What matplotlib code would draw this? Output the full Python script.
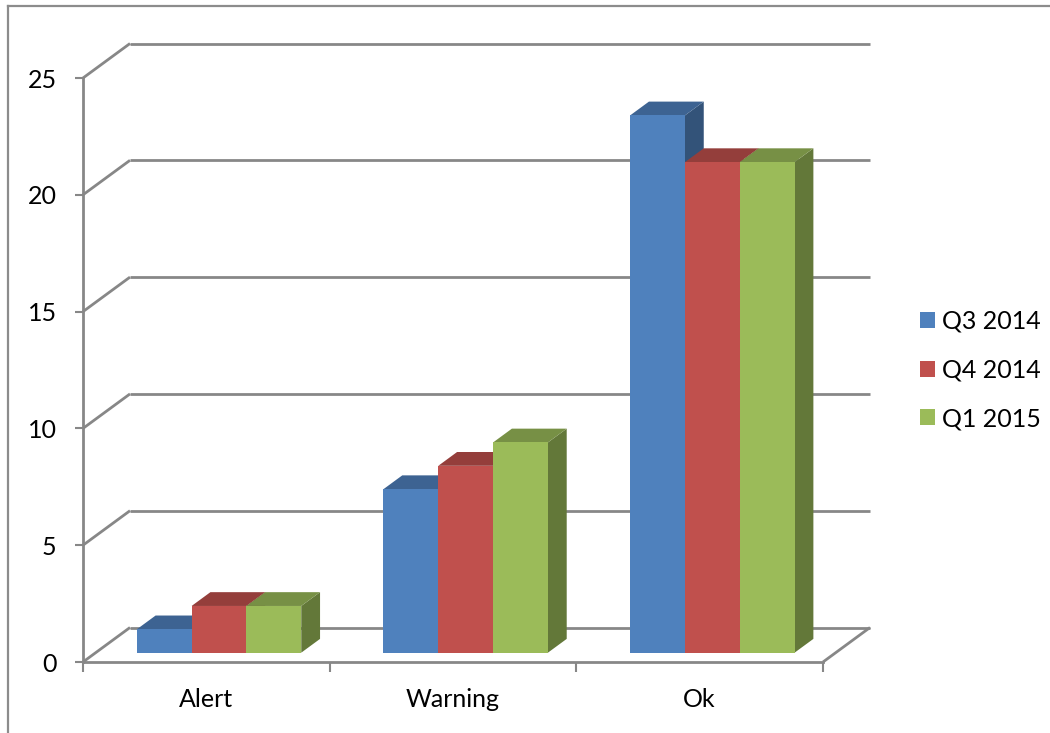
import matplotlib
matplotlib.use("Agg")
import matplotlib.pyplot as plt
import numpy as np
from matplotlib.patches import Polygon, Patch
from matplotlib.lines import Line2D
from matplotlib.transforms import IdentityTransform

# Chart data
categories = ["Alert", "Warning", "Ok"]
series_names = ["Q3 2014", "Q4 2014", "Q1 2015"]
q3_2014 = [1, 7, 23]
q4_2014 = [2, 8, 21]
q1_2015 = [2, 9, 21]
y_ticks = [0, 5, 10, 15, 20, 25]

series_values = [q3_2014, q4_2014, q1_2015]
front_colors = ["#4F81BD", "#C0504D", "#9BBB59"]
GRID = "#878787"
FS = 18

plt.rcParams["font.family"] = ["Lato", "DejaVu Sans"]

W, H = 1050, 733
fig = plt.figure(figsize=(W / 100, H / 100), dpi=100)
fig.patch.set_facecolor("white")

# Front plane of the 3-D box
ax = fig.add_axes([83 / W, 71 / H, 740 / W, 584 / H])
ax.set_xlim(0, len(categories))
ax.set_ylim(0, y_ticks[-1])
ax.patch.set_visible(False)
for s in ["top", "right"]:
    ax.spines[s].set_visible(False)
for s in ["left", "bottom"]:
    ax.spines[s].set_color(GRID)
    ax.spines[s].set_linewidth(2)
    ax.spines[s].set_zorder(1)

ax.set_yticks(y_ticks)
ax.tick_params(axis="y", direction="out", length=6, width=1.5, color=GRID,
               pad=13, labelsize=FS)
ax.set_xticks(np.arange(len(categories)) + 0.5)
ax.set_xticklabels(categories)
ax.set_xticks(np.arange(len(categories) + 1), minor=True)
ax.tick_params(axis="x", which="major", length=0, pad=19, labelsize=FS)
ax.tick_params(axis="x", which="minor", direction="out", length=7, width=1.5,
               color=GRID)

# Oblique depth vector (pixels) from the front plane to the back wall
DEPTH = np.array([47.0, 34.5])


def proj(x, y, f):
    """Data point (x, y) pushed back by depth fraction f, in display pixels."""
    return ax.transData.transform((x, y)) + f * DEPTH


def line3d(p, q, **kw):
    ax.add_line(Line2D([p[0], q[0]], [p[1], q[1]], transform=IdentityTransform(),
                       clip_on=False, color=GRID, lw=2, solid_capstyle="butt", **kw))


# Back wall gridlines and side-wall diagonals
n_cat = len(categories)
for v in y_ticks:
    line3d(proj(0, v, 1), proj(n_cat, v, 1), zorder=0.5)
    line3d(proj(0, v, 0), proj(0, v, 1), zorder=0.5)
# Floor edge on the right
line3d(proj(n_cat, 0, 0), proj(n_cat, 0, 1), zorder=0.5)


def shade(hex_color, k):
    rgb = np.array(matplotlib.colors.to_rgb(hex_color))
    return tuple(rgb * k)


# 3-D columns
bar_w = 1 / 4.5
f0, f1 = 0.27, 0.67
z = 2
for c in range(n_cat):
    for i, vals in enumerate(series_values):
        h = vals[c]
        x0 = c + (1 - len(series_values) * bar_w) / 2 + i * bar_w
        x1 = x0 + bar_w
        col = front_colors[i]
        side = [proj(x1, 0, f0), proj(x1, 0, f1), proj(x1, h, f1), proj(x1, h, f0)]
        top = [proj(x0, h, f0), proj(x1, h, f0), proj(x1, h, f1), proj(x0, h, f1)]
        front = [proj(x0, 0, f0), proj(x1, 0, f0), proj(x1, h, f0), proj(x0, h, f0)]
        for pts, k in [(side, 0.64), (top, 0.77), (front, 1.0)]:
            ax.add_patch(Polygon(pts, closed=True, transform=IdentityTransform(),
                                 facecolor=shade(col, k), edgecolor="none",
                                 clip_on=False, zorder=z))
            z += 0.01

# Legend
handles = [Patch(facecolor=front_colors[i], edgecolor="none", label=series_names[i])
           for i in range(len(series_names))]
fig.legend(handles=handles, loc="center left", bbox_to_anchor=(920 / W, 1 - 370 / H),
           frameon=False, fontsize=FS, handlelength=0.6, handleheight=0.6,
           handletextpad=0.3, labelspacing=1.02, borderpad=0, borderaxespad=0)

# Chart area border (top and left edges)
fig.add_artist(Line2D([8 / W, 8 / W], [0, 1 - 6 / H], transform=fig.transFigure,
                      color="#8C8C8C", lw=1.6))
fig.add_artist(Line2D([8 / W, 1], [1 - 6 / H, 1 - 6 / H], transform=fig.transFigure,
                      color="#8C8C8C", lw=1.6))

fig.savefig("out.png", dpi=100, facecolor="white")
